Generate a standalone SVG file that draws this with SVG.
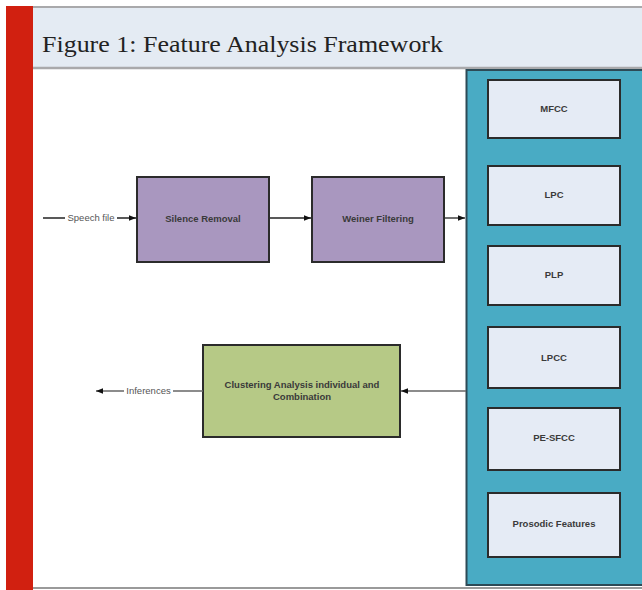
<svg xmlns="http://www.w3.org/2000/svg" width="642" height="590" viewBox="0 0 642 590">
<defs>
<style>
.proc{fill:#a997bf;stroke:#2b2b2b;stroke-width:2}
.feat{fill:#e5ebf5;stroke:#2b2b2b;stroke-width:2}
.clus{fill:#b6c986;stroke:#2b2b2b;stroke-width:2}
.lbl{font-family:"Liberation Sans",Arial,sans-serif;font-size:9.5px;font-weight:bold;fill:#3a3a3a;text-anchor:middle}
.elbl{font-family:"Liberation Sans",Arial,sans-serif;font-size:9.5px;fill:#555555;text-anchor:middle}
.conn{stroke:#222;stroke-width:1.3;fill:none}
.connG{stroke:#666;stroke-width:1.6;fill:none}
.title{font-family:"Liberation Serif","Times New Roman",serif;font-size:23.5px;fill:#222}
</style>
<marker id="ah" viewBox="0 0 10 10" refX="10" refY="5" markerWidth="7" markerHeight="7" orient="auto" markerUnits="userSpaceOnUse">
<path d="M0,1 L10,5 L0,9 z" fill="#111"/>
</marker>
</defs>
<rect x="0" y="0" width="642" height="590" fill="#ffffff"/>
<rect x="6" y="6" width="27" height="584" fill="#d12010"/>
<rect x="33" y="6" width="609" height="62" fill="#e4ebf3"/>
<line x1="33" y1="7" x2="642" y2="7" stroke="#a9a9ab" stroke-width="2"/>
<line x1="33" y1="68" x2="642" y2="68" stroke="#a9a9ab" stroke-width="2.5"/>
<text class="title" x="42" y="52" textLength="401" lengthAdjust="spacingAndGlyphs">Figure 1: Feature Analysis Framework</text>
<line x1="33" y1="588" x2="642" y2="588" stroke="#9a9a9a" stroke-width="2"/>

<g id="panel">
<rect x="466.5" y="70" width="180" height="515" fill="#49abc4" stroke="#2d4a56" stroke-width="2"/>
</g>
<g id="mfcc"><rect class="feat" x="488" y="80" width="132" height="58"/><text class="lbl" x="554" y="112">MFCC</text></g>
<g id="lpc"><rect class="feat" x="488" y="166" width="132" height="59"/><text class="lbl" x="554" y="198">LPC</text></g>
<g id="plp"><rect class="feat" x="488" y="246" width="132" height="59"/><text class="lbl" x="554" y="278">PLP</text></g>
<g id="lpcc"><rect class="feat" x="488" y="327" width="132" height="61"/><text class="lbl" x="554" y="361">LPCC</text></g>
<g id="pesfcc"><rect class="feat" x="488" y="408" width="132" height="62"/><text class="lbl" x="554" y="441">PE-SFCC</text></g>
<g id="prosodic"><rect class="feat" x="488" y="493" width="132" height="64"/><text class="lbl" x="554" y="527">Prosodic Features</text></g>

<g id="silence"><rect class="proc" x="137" y="177" width="132" height="85"/><text class="lbl" x="203" y="222">Silence Removal</text></g>
<g id="wiener"><rect class="proc" x="312" y="177" width="132" height="85"/><text class="lbl" x="378" y="222">Weiner Filtering</text></g>
<g id="clustering"><rect class="clus" x="203" y="345" width="197" height="92"/><text class="lbl" x="302" y="388">Clustering  Analysis individual and</text><text class="lbl" x="302" y="400">Combination</text></g>

<g id="connectors">
<line class="conn" x1="43" y1="218" x2="136" y2="218" marker-end="url(#ah)"/>
<rect x="65" y="212" width="52" height="12" fill="#ffffff"/>
<text class="elbl" x="91" y="221">Speech file</text>
<line class="conn" x1="270" y1="218" x2="311" y2="218" marker-end="url(#ah)"/>
<line class="conn" x1="445" y1="218" x2="465" y2="218" marker-end="url(#ah)"/>
<line class="connG" x1="466" y1="391" x2="401" y2="391" marker-end="url(#ah)"/>
<line class="connG" x1="203" y1="391" x2="96" y2="391" marker-end="url(#ah)"/>
<rect x="124" y="385" width="49" height="12" fill="#ffffff"/>
<text class="elbl" x="148.5" y="394">Inferences</text>
</g>
</svg>
